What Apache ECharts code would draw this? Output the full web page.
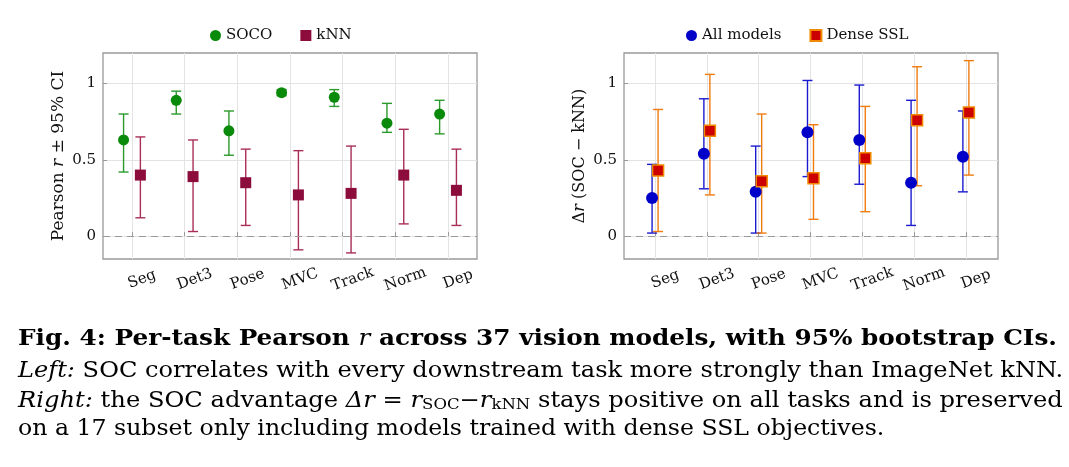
<!DOCTYPE html>
<html>
<head>
<meta charset="utf-8">
<script src="https://cdn.jsdelivr.net/npm/echarts@6/dist/echarts.min.js"></script>
<style>
  html, body { margin: 0; background: #fff; }
  #fig { width: 1069px; height: 467px; }
</style>
</head>
<body>
<div id="fig"></div>
<script>
// tasks on the x axis (placed at 1..7)
var tasks = ['Seg', 'Det3', 'Pose', 'MVC', 'Track', 'Norm', 'Dep'];
var taskPos = [1, 2, 3, 4, 5, 6, 7];
var yTicks = [0, 0.5, 1];

// left panel: Pearson r with 95% CI
var socoR  = [0.63, 0.89, 0.69, 0.94, 0.91, 0.74, 0.80];
var socoLo = [0.42, 0.80, 0.53, 0.92, 0.85, 0.68, 0.67];
var socoHi = [0.80, 0.95, 0.82, 0.96, 0.96, 0.87, 0.89];
var knnR   = [0.40, 0.39, 0.35, 0.27, 0.28, 0.40, 0.30];
var knnLo  = [0.12, 0.03, 0.07, -0.09, -0.11, 0.08, 0.07];
var knnHi  = [0.65, 0.63, 0.57, 0.56, 0.59, 0.70, 0.57];

// right panel: delta r (SOC - kNN)
var allD    = [0.25, 0.54, 0.29, 0.68, 0.63, 0.35, 0.52];
var allLo   = [0.02, 0.31, 0.02, 0.39, 0.34, 0.07, 0.29];
var allHi   = [0.47, 0.90, 0.59, 1.02, 0.99, 0.89, 0.82];
var denseD  = [0.43, 0.69, 0.36, 0.38, 0.51, 0.76, 0.81];
var denseLo = [0.03, 0.27, 0.02, 0.11, 0.16, 0.33, 0.40];
var denseHi = [0.83, 1.06, 0.80, 0.73, 0.85, 1.11, 1.15];

var serif = 'DejaVu Serif';
var chart = echarts.init(document.getElementById('fig'));

function points(vals) {
  return vals.map(function (v, i) { return [taskPos[i], v]; });
}
function ranges(lo, hi) {
  return lo.map(function (v, i) { return [taskPos[i], v, hi[i]]; });
}

// vertical whisker with caps, shifted dx pixels off the task line
function errorBars(name, lo, hi, axis, dx, color) {
  return {
    type: 'custom',
    name: name,
    xAxisIndex: axis,
    yAxisIndex: axis,
    data: ranges(lo, hi),
    silent: true,
    z: 2,
    renderItem: function (params, api) {
      var a = api.coord([api.value(0), api.value(1)]);
      var b = api.coord([api.value(0), api.value(2)]);
      var x = a[0] + dx, w = 5;
      var st = { stroke: color, lineWidth: 1.4, fill: null };
      return {
        type: 'group',
        children: [
          { type: 'line', shape: { x1: x, y1: a[1], x2: x, y2: b[1] }, style: st },
          { type: 'line', shape: { x1: x - w, y1: a[1], x2: x + w, y2: a[1] }, style: st },
          { type: 'line', shape: { x1: x - w, y1: b[1], x2: x + w, y2: b[1] }, style: st }
        ]
      };
    }
  };
}

function dots(name, vals, axis, dx, symbol, size, itemStyle) {
  itemStyle.opacity = 1;
  return {
    type: 'scatter',
    name: name,
    xAxisIndex: axis,
    yAxisIndex: axis,
    data: points(vals),
    symbol: symbol,
    symbolSize: size,
    symbolOffset: [dx, 0],
    itemStyle: itemStyle,
    z: 3,
    silent: true
  };
}

function xAxisFor(i, min, max) {
  return {
    type: 'value', gridIndex: i, min: min, max: max,
    axisLine: { show: false },
    axisTick: { show: true, inside: true, length: 4, customValues: taskPos, lineStyle: { color: '#999' } },
    axisLabel: {
      customValues: taskPos,
      formatter: function (v) { return tasks[Math.round(v) - 1]; },
      rotate: 20, align: 'center', verticalAlign: 'top', margin: 16,
      padding: [0, 0, 0, 16],
      fontFamily: serif, fontSize: 15, color: '#111'
    },
    splitLine: { show: true, lineStyle: { color: '#e3e3e3', width: 1 } }
  };
}

function yAxisFor(i, name, nameSize) {
  return {
    type: 'value', gridIndex: i, min: -0.15, max: 1.2,
    axisLine: { show: false },
    axisTick: { show: true, inside: true, length: 4, customValues: yTicks, lineStyle: { color: '#999' } },
    axisLabel: {
      customValues: yTicks, margin: 7,
      fontFamily: serif, fontSize: 15, color: '#111'
    },
    splitLine: { show: true, lineStyle: { color: '#e3e3e3', width: 1 } },
    name: name, nameLocation: 'middle', nameGap: 36, nameRotate: 90,
    nameTextStyle: {
      fontFamily: serif, fontSize: nameSize, color: '#111',
      rich: { i: { fontFamily: serif, fontStyle: 'italic', fontSize: nameSize, color: '#111' } }
    }
  };
}

var zeroLine = {
  silent: true, symbol: 'none', label: { show: false },
  lineStyle: { color: '#9a9a9a', type: [7, 5], width: 1.2 },
  data: [{ yAxis: 0 }]
};

var socoDots = dots('SOCO', socoR, 0, -8.4, 'circle', 11, { color: '#0a8a0a' });
socoDots.markLine = zeroLine;
var allDots = dots('All models', allD, 1, -3, 'circle', 12, { color: '#0000c8' });
allDots.markLine = zeroLine;

var legendText = { fontFamily: serif, fontSize: 15, color: '#111' };

// caption lines: x-stretch matches the justified LaTeX caption width
function captionLine(y, text, font, stretch, rich) {
  return {
    type: 'text', x: 18, y: y, scaleX: stretch, scaleY: 1,
    style: { text: text, font: font, fill: '#000', rich: rich || {} }
  };
}
var it = { fontFamily: serif, fontStyle: 'italic', fontSize: 22, fill: '#000' };

var option = {
  animation: false,
  backgroundColor: '#fff',
  grid: [
    { left: 103, top: 53, width: 374, height: 206, show: true, borderColor: '#999', borderWidth: 1.3, backgroundColor: 'transparent' },
    { left: 624, top: 53, width: 374, height: 206, show: true, borderColor: '#999', borderWidth: 1.3, backgroundColor: 'transparent' }
  ],
  legend: [
    { data: ['SOCO', 'kNN'], left: 205, top: 23, itemWidth: 11, itemHeight: 11, itemGap: 28, textStyle: legendText },
    { data: ['All models', 'Dense SSL'], left: 681, top: 23, itemWidth: 11, itemHeight: 11, itemGap: 28, textStyle: legendText }
  ],
  xAxis: [xAxisFor(0, 0.45, 7.55), xAxisFor(1, 0.4, 7.62)],
  yAxis: [
    yAxisFor(0, 'Pearson {i|r} ± 95% CI', 17),
    yAxisFor(1, 'Δ{i|r} (SOC − kNN)', 16)
  ],
  series: [
    errorBars('SOCO CI', socoLo, socoHi, 0, -8.4, '#2a9a2a'),
    errorBars('kNN CI', knnLo, knnHi, 0, 8.4, '#a82e58'),
    socoDots,
    dots('kNN', knnR, 0, 8.4, 'rect', 11, { color: '#8c0c3c' }),
    errorBars('All CI', allLo, allHi, 1, -3, '#1a1ad0'),
    errorBars('Dense CI', denseLo, denseHi, 1, 3, '#f07c10'),
    allDots,
    dots('Dense SSL', denseD, 1, 3, 'rect', 11, { color: '#cc0000', borderColor: '#f08a00', borderWidth: 1.5 })
  ],
  graphic: [
    captionLine(328, 'Fig. 4: Per-task Pearson {m|r} across 37 vision models, with 95% bootstrap CIs.',
      'bold 22px "DejaVu Serif"', 1.125,
      { m: { fontFamily: serif, fontStyle: 'italic', fontWeight: 'normal', fontSize: 22, fill: '#000' } }),
    captionLine(360, '{it|Left:} SOC correlates with every downstream task more strongly than ImageNet kNN.',
      '22px "DejaVu Serif"', 1.095, { it: it }),
    captionLine(390, '{it|Right:} the SOC advantage {it|Δr} = {it|r}{sub|SOC}−{it|r}{sub|kNN} stays positive on all tasks and is preserved',
      '22px "DejaVu Serif"', 1.10,
      { it: it, sub: { fontFamily: serif, fontSize: 15, fill: '#000', verticalAlign: 'bottom', padding: [8, 0, 0, 0] } }),
    captionLine(418, 'on a 17 subset only including models trained with dense SSL objectives.',
      '22px "DejaVu Serif"', 1.073)
  ]
};

chart.setOption(option);
</script>
</body>
</html>
